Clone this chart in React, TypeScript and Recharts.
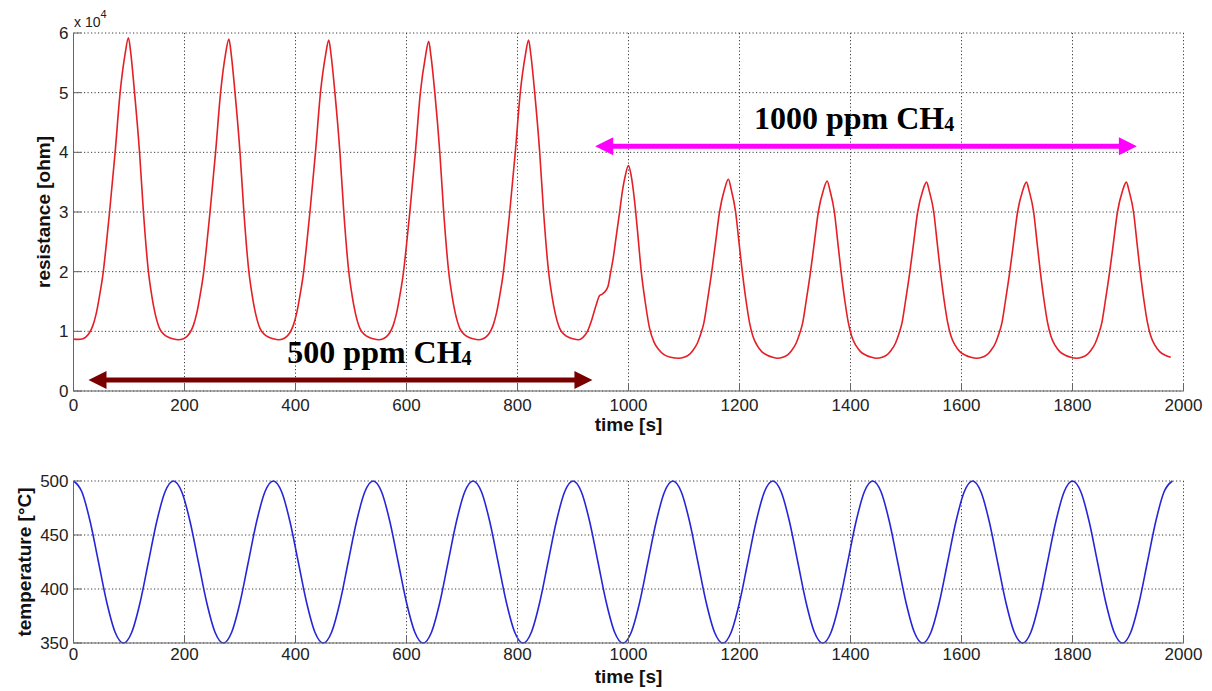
import { CartesianGrid, Line, LineChart, ReferenceLine, XAxis, YAxis } from "recharts";

const FONT = "'Liberation Sans', Arial, Helvetica, sans-serif";
const SERIF = "'Liberation Serif', 'Times New Roman', serif";

const TIME_TICKS = [0, 200, 400, 600, 800, 1000, 1200, 1400, 1600, 1800, 2000];
const RES_TICKS = [0, 1, 2, 3, 4, 5, 6];
const TEMP_TICKS = [350, 400, 450, 500];

// resistance in units of 1e4 ohm, 500 ppm section (one row per cycle)
const time500 = [
  0, 9, 17, 23, 29, 35, 41, 47, 53, 59, 65, 75, 84, 93, 99, 103, 110, 119, 126, 135, 141, 147, 155, 163, 171, 179,
  189, 198, 204, 210, 216, 222, 228, 234, 240, 246, 256, 265, 274, 280, 284, 291, 300, 307, 316, 322, 328, 336, 344, 352, 360,
  370, 378, 384, 390, 396, 402, 408, 414, 420, 426, 436, 445, 454, 460, 464, 471, 480, 487, 496, 502, 508, 516, 524, 532, 540,
  550, 558, 564, 570, 576, 582, 588, 594, 600, 606, 616, 625, 634, 640, 644, 651, 660, 667, 676, 682, 688, 696, 704, 712, 720,
  730, 738, 744, 750, 756, 762, 768, 774, 780, 786, 796, 805, 814, 820, 824, 831, 840, 847, 856, 862, 868, 876, 884, 892, 900,
];
const res500 = [
  0.87, 0.865, 0.875, 0.91, 0.98, 1.1, 1.3, 1.6, 1.95, 2.45, 3.0, 4.0, 5.0, 5.65, 5.92, 5.68, 5.0, 4.0, 3.0, 2.0, 1.6, 1.3, 1.05, 0.95, 0.9, 0.875,
  0.86, 0.875, 0.91, 0.98, 1.1, 1.3, 1.6, 1.95, 2.45, 3.0, 4.0, 5.0, 5.65, 5.9, 5.66, 5.0, 4.0, 3.0, 2.0, 1.6, 1.3, 1.05, 0.95, 0.9, 0.875,
  0.86, 0.875, 0.91, 0.98, 1.1, 1.3, 1.6, 1.95, 2.45, 3.0, 4.0, 5.0, 5.62, 5.88, 5.64, 5.0, 4.0, 3.0, 2.0, 1.6, 1.3, 1.05, 0.95, 0.9, 0.875,
  0.86, 0.875, 0.91, 0.98, 1.1, 1.3, 1.6, 1.95, 2.45, 3.0, 4.0, 5.0, 5.6, 5.86, 5.62, 5.0, 4.0, 3.0, 2.0, 1.6, 1.3, 1.05, 0.95, 0.9, 0.875,
  0.86, 0.875, 0.91, 0.98, 1.1, 1.3, 1.6, 1.95, 2.45, 3.0, 4.0, 5.0, 5.62, 5.88, 5.64, 5.0, 4.0, 3.0, 2.0, 1.6, 1.3, 1.05, 0.95, 0.9, 0.875,
];

// switch to 1000 ppm, then the 1000 ppm cycles
const time1000 = [
  910, 918, 926, 934, 942, 948, 952, 956, 963, 968, 972, 978, 984, 989, 994, 1000, 1005, 1013, 1018, 1023, 1030, 1038, 1046, 1054, 1064, 1076,
  1090, 1100, 1108, 1116, 1124, 1130, 1136, 1142, 1150, 1157, 1164, 1173, 1180, 1185, 1193, 1199, 1205, 1212, 1218, 1224, 1232, 1240, 1250, 1260,
  1268, 1278, 1286, 1294, 1302, 1308, 1314, 1320, 1328, 1335, 1342, 1351, 1358, 1363, 1371, 1377, 1383, 1390, 1396, 1402, 1410, 1418, 1428, 1438,
  1447, 1457, 1465, 1473, 1481, 1487, 1493, 1499, 1507, 1514, 1521, 1530, 1537, 1542, 1550, 1556, 1562, 1569, 1575, 1581, 1589, 1597, 1607, 1617,
  1627, 1637, 1645, 1653, 1661, 1667, 1673, 1679, 1687, 1694, 1701, 1710, 1717, 1722, 1730, 1736, 1742, 1749, 1755, 1761, 1769, 1777, 1787, 1797,
  1807, 1817, 1825, 1833, 1841, 1847, 1853, 1859, 1867, 1874, 1881, 1890, 1897, 1902, 1910, 1916, 1922, 1929, 1935, 1941, 1949, 1957, 1967, 1977,
];
const res1000 = [
  0.86, 0.9, 1.0, 1.2, 1.45, 1.6, 1.62, 1.65, 1.75, 2.0, 2.2, 2.6, 3.0, 3.35, 3.6, 3.78, 3.6, 3.0, 2.5, 2.0, 1.5, 1.05, 0.82, 0.7, 0.61, 0.565,
  0.55, 0.565, 0.6, 0.68, 0.8, 0.95, 1.15, 1.5, 2.0, 2.5, 3.0, 3.38, 3.55, 3.38, 3.0, 2.5, 2.0, 1.5, 1.15, 0.92, 0.76, 0.66, 0.6, 0.565,
  0.55, 0.565, 0.6, 0.68, 0.8, 0.95, 1.15, 1.5, 2.0, 2.5, 3.0, 3.36, 3.52, 3.36, 3.0, 2.5, 2.0, 1.5, 1.15, 0.92, 0.76, 0.66, 0.6, 0.565,
  0.55, 0.565, 0.6, 0.68, 0.8, 0.95, 1.15, 1.5, 2.0, 2.5, 3.0, 3.35, 3.5, 3.35, 3.0, 2.5, 2.0, 1.5, 1.15, 0.92, 0.76, 0.66, 0.6, 0.565,
  0.55, 0.565, 0.6, 0.68, 0.8, 0.95, 1.15, 1.5, 2.0, 2.5, 3.0, 3.35, 3.5, 3.35, 3.0, 2.5, 2.0, 1.5, 1.15, 0.92, 0.76, 0.66, 0.6, 0.565,
  0.55, 0.565, 0.6, 0.68, 0.8, 0.95, 1.15, 1.5, 2.0, 2.5, 3.0, 3.35, 3.5, 3.35, 3.0, 2.5, 2.0, 1.5, 1.15, 0.92, 0.76, 0.66, 0.6, 0.565,
];

// heater temperature, sampled every 15 s
const tempTime = [
  0, 15, 30, 45, 60, 75, 90, 105, 120, 135, 150, 165,
  180, 195, 210, 225, 240, 255, 270, 285, 300, 315, 330, 345,
  360, 375, 390, 405, 420, 435, 450, 465, 480, 495, 510, 525,
  540, 555, 570, 585, 600, 615, 630, 645, 660, 675, 690, 705,
  720, 735, 750, 765, 780, 795, 810, 825, 840, 855, 870, 885,
  900, 915, 930, 945, 960, 975, 990, 1005, 1020, 1035, 1050, 1065,
  1080, 1095, 1110, 1125, 1140, 1155, 1170, 1185, 1200, 1215, 1230, 1245,
  1260, 1275, 1290, 1305, 1320, 1335, 1350, 1365, 1380, 1395, 1410, 1425,
  1440, 1455, 1470, 1485, 1500, 1515, 1530, 1545, 1560, 1575, 1590, 1605,
  1620, 1635, 1650, 1665, 1680, 1695, 1710, 1725, 1740, 1755, 1770, 1785,
  1800, 1815, 1830, 1845, 1860, 1875, 1890, 1905, 1920, 1935, 1950, 1965,
  1980,
];
const tempValue = [
  500, 490, 462.5, 425, 387.5, 360, 350, 360, 387.5, 425, 462.5, 490,
  500, 490, 462.5, 425, 387.5, 360, 350, 360, 387.5, 425, 462.5, 490,
  500, 490, 462.5, 425, 387.5, 360, 350, 360, 387.5, 425, 462.5, 490,
  500, 490, 462.5, 425, 387.5, 360, 350, 360, 387.5, 425, 462.5, 490,
  500, 490, 462.5, 425, 387.5, 360, 350, 360, 387.5, 425, 462.5, 490,
  500, 490, 462.5, 425, 387.5, 360, 350, 360, 387.5, 425, 462.5, 490,
  500, 490, 462.5, 425, 387.5, 360, 350, 360, 387.5, 425, 462.5, 490,
  500, 490, 462.5, 425, 387.5, 360, 350, 360, 387.5, 425, 462.5, 490,
  500, 490, 462.5, 425, 387.5, 360, 350, 360, 387.5, 425, 462.5, 490,
  500, 490, 462.5, 425, 387.5, 360, 350, 360, 387.5, 425, 462.5, 490,
  500, 490, 462.5, 425, 387.5, 360, 350, 360, 387.5, 425, 462.5, 490,
  500,
];

const resData = [
  ...time500.map((t, i) => ({ t, r: res500[i] })),
  ...time1000.map((t, i) => ({ t, r: res1000[i] })),
];
const tempData = tempTime.map((t, i) => ({ t, temp: tempValue[i] }));

const AXIS = "#666";
const GRID = "#3a3a3a";
const tickStyle = { fill: "#222", fontSize: 17, fontFamily: FONT };

function arrowShape(color: string, label: string, dx: number) {
  return (p: any) => {
    const { x1, x2, y1 } = p;
    const head = 18;
    const half = 9;
    return (
      <g>
        <line x1={x1 + head - 2} y1={y1} x2={x2 - head + 2} y2={y1} stroke={color} strokeWidth={5} />
        <polygon points={`${x1},${y1} ${x1 + head},${y1 - half} ${x1 + head},${y1 + half}`} fill={color} />
        <polygon points={`${x2},${y1} ${x2 - head},${y1 - half} ${x2 - head},${y1 + half}`} fill={color} />
        <text
          x={(x1 + x2) / 2 + dx}
          y={y1 - 17}
          textAnchor="middle"
          fontFamily={SERIF}
          fontWeight="bold"
          fontSize={32}
          fill="#000"
        >
          {label}
          <tspan fontSize={20} dy={2}>4</tspan>
        </text>
      </g>
    );
  };
}

const timeLabel = (props: any) => {
  const vb = props.viewBox;
  return (
    <text x={vb.x + vb.width / 2} y={vb.y + 40} textAnchor="middle" fontFamily={FONT} fontWeight="bold" fontSize={19} fill="#111">
      time [s]
    </text>
  );
};

const resLabel = (props: any) => {
  const vb = props.viewBox;
  return (
    <g>
      <text
        transform={`translate(50, ${vb.y + vb.height / 2}) rotate(-90)`}
        textAnchor="middle"
        fontFamily={FONT}
        fontWeight="bold"
        fontSize={19}
        fill="#111"
      >
        resistance [ohm]
      </text>
      <text x={74} y={27} fontFamily={FONT} fontSize={14} fill="#222">
        x 10<tspan dy={-9} fontSize={11}>4</tspan>
      </text>
    </g>
  );
};

const tempLabel = (props: any) => {
  const vb = props.viewBox;
  return (
    <text
      transform={`translate(31, ${vb.y + vb.height / 2}) rotate(-90)`}
      textAnchor="middle"
      fontFamily={FONT}
      fontWeight="bold"
      fontSize={19}
      fill="#111"
    >
      temperature [°C]
    </text>
  );
};

export default function App() {
  return (
    <div style={{ position: "absolute", left: 0, top: 0, width: 1212, height: 691, background: "#fff", overflow: "hidden" }}>
      <div style={{ position: "absolute", left: 0, top: 0 }}>
        <LineChart width={1212} height={440} data={resData} margin={{ top: 33, right: 28.5, bottom: 0, left: 0 }}>
          <CartesianGrid stroke={GRID} strokeDasharray="1.2 2.3" />
          <XAxis
            dataKey="t"
            type="number"
            domain={[0, 2000]}
            ticks={TIME_TICKS}
            height={49}
            tickSize={-8}
            tickMargin={16}
            tick={tickStyle}
            axisLine={{ stroke: AXIS }}
            tickLine={{ stroke: AXIS }}
            label={timeLabel}
          />
          <XAxis
            xAxisId="top"
            orientation="top"
            type="number"
            domain={[0, 2000]}
            ticks={TIME_TICKS}
            height={0}
            tickSize={-8}
            tick={false}
            axisLine={{ stroke: AXIS }}
            tickLine={{ stroke: AXIS }}
          />
          <YAxis
            type="number"
            domain={[0, 6]}
            ticks={RES_TICKS}
            width={73.5}
            tickSize={-8}
            tickMargin={13}
            tick={tickStyle}
            axisLine={{ stroke: AXIS }}
            tickLine={{ stroke: AXIS }}
            label={resLabel}
          />
          <YAxis
            yAxisId="right"
            orientation="right"
            type="number"
            domain={[0, 6]}
            ticks={RES_TICKS}
            width={0}
            tickSize={-8}
            tick={false}
            axisLine={{ stroke: AXIS }}
            tickLine={{ stroke: AXIS }}
          />
          <Line type="monotone" dataKey="r" stroke="#e41f26" strokeWidth={1.6} dot={false} isAnimationActive={false} />
          <ReferenceLine
            segment={[{ x: 940, y: 4.1 }, { x: 1916, y: 4.1 }]}
            shape={arrowShape("#ff00ff", "1000 ppm CH", -12)}
          />
          <ReferenceLine
            segment={[{ x: 27, y: 0.185 }, { x: 935, y: 0.185 }]}
            shape={arrowShape("#7a0000", "500 ppm CH", 39)}
          />
        </LineChart>
      </div>
      <div style={{ position: "absolute", left: 0, top: 440 }}>
        <LineChart width={1212} height={251} data={tempData} margin={{ top: 41, right: 28.5, bottom: 0, left: 0 }}>
          <CartesianGrid stroke={GRID} strokeDasharray="1.2 2.3" />
          <XAxis
            dataKey="t"
            type="number"
            domain={[0, 2000]}
            ticks={TIME_TICKS}
            height={48}
            tickSize={-8}
            tickMargin={13}
            tick={tickStyle}
            axisLine={{ stroke: AXIS }}
            tickLine={{ stroke: AXIS }}
            label={timeLabel}
          />
          <XAxis
            xAxisId="top"
            orientation="top"
            type="number"
            domain={[0, 2000]}
            ticks={TIME_TICKS}
            height={0}
            tickSize={-8}
            tick={false}
            axisLine={{ stroke: AXIS }}
            tickLine={{ stroke: AXIS }}
          />
          <YAxis
            type="number"
            domain={[350, 500]}
            ticks={TEMP_TICKS}
            width={73.5}
            tickSize={-8}
            tickMargin={13}
            tick={tickStyle}
            axisLine={{ stroke: AXIS }}
            tickLine={{ stroke: AXIS }}
            label={tempLabel}
          />
          <YAxis
            yAxisId="right"
            orientation="right"
            type="number"
            domain={[350, 500]}
            ticks={TEMP_TICKS}
            width={0}
            tickSize={-8}
            tick={false}
            axisLine={{ stroke: AXIS }}
            tickLine={{ stroke: AXIS }}
          />
          <Line type="monotone" dataKey="temp" stroke="#2626d9" strokeWidth={1.6} dot={false} isAnimationActive={false} />
        </LineChart>
      </div>
    </div>
  );
}
